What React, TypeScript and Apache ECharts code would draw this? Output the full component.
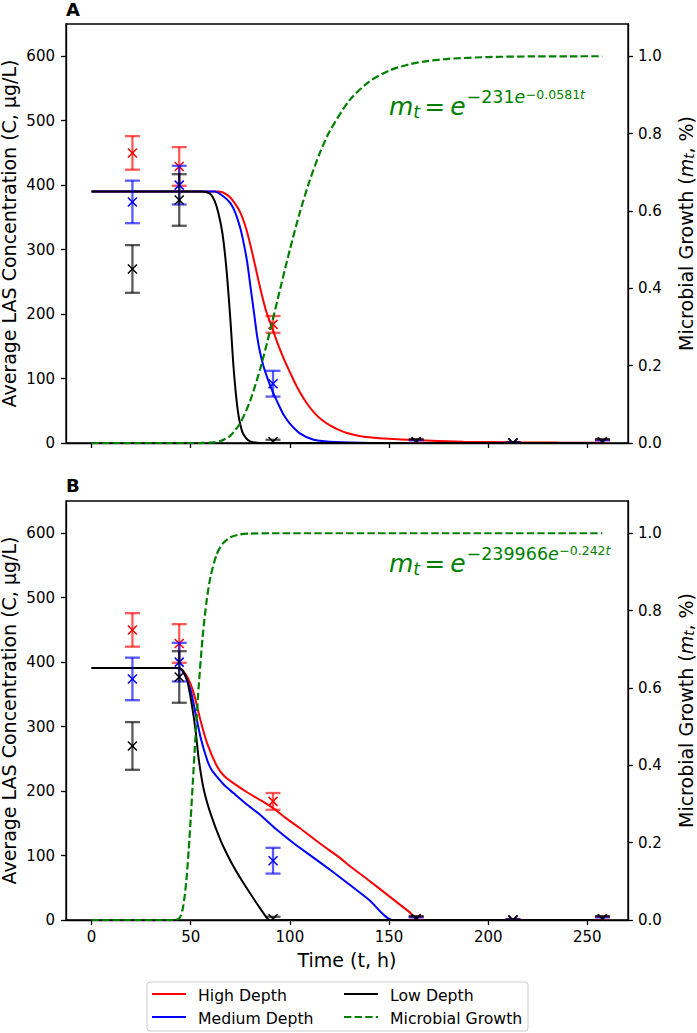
import React, { useEffect, useRef } from 'react';
import * as echarts from 'echarts';

const FONT = '"DejaVu Sans", sans-serif';
const RED = '#ff0000';
const BLUE = '#0000ff';
const BLACK = '#000000';
const GREEN = '#008000';

// Sampling times (h) and measured LAS concentrations (mean ± sd, µg/L)
const sampleTimes = [20.6, 44.2, 91.5, 163.7, 212.5, 257.6];
const highDepthMean = [450, 429, 184, 2, 0, 2];
const highDepthSd = [26, 30, 13, 3, 1, 3];
const mediumDepthMean = [374, 400, 92, 1, 0, 1];
const mediumDepthSd = [33, 30, 20, 3, 1, 3];
const lowDepthMean = [270, 377, 2, 2, 0, 2];
const lowDepthSd = [37, 40, 3, 4, 1, 4];

// Axis ticks
const timeTicks = [0, 50, 100, 150, 200, 250];
const concTicks = [0, 100, 200, 300, 400, 500, 600];
const growthTicks = [0, 0.2, 0.4, 0.6, 0.8, 1.0];

// Panel A model curves: [t (h), C (µg/L)]
const highFitA = [
  [0, 390], [64, 390], [68.4, 385], [72, 373], [75.1, 357], [78, 332], [80.1, 307], [82, 282],
  [84.3, 250], [86, 228], [87.7, 208], [89.8, 189], [91.8, 172], [94, 153], [96.9, 131], [100, 110],
  [103.6, 87], [108, 64], [112, 48], [116, 36], [120.4, 27], [125, 20], [128.8, 15.5], [135, 11],
  [140, 9], [150, 6.5], [162.4, 4.5], [187.6, 2], [212.8, 1], [235, 0.6], [257.6, 0.4],
];
const mediumFitA = [
  [0, 390], [62, 390], [66.7, 382], [70, 372], [72.5, 357], [75, 333], [76.7, 310], [78.5, 280],
  [80.1, 243], [82, 200], [83.5, 165], [85, 140], [86.8, 118], [89, 98], [91, 82], [93, 68],
  [95, 55], [97, 43], [100, 30], [105, 15], [112, 5], [120, 2], [135, 0.3], [150, 0], [257.6, 0],
];
const lowFitA = [
  [0, 390], [55, 390], [58, 389], [60, 386], [62, 376], [64, 356], [66, 325], [68, 270],
  [70, 191], [71.7, 113], [73.7, 51], [75.9, 18], [78, 7], [80, 2.5], [83.5, 0.5], [90, 0], [257.6, 0],
];
// Gompertz growth m_t = exp(-231 exp(-0.0581 t)), tabulated
const growthA = [
  [0, 0], [30, 0], [40, 0], [50, 0.000003], [55, 0.00008], [60, 0.00085], [65, 0.005], [70, 0.0191],
  [75, 0.0519], [80, 0.1094], [85, 0.1911], [90, 0.2898], [95, 0.3962], [100, 0.5002], [105, 0.5958],
  [110, 0.6788], [115, 0.7485], [120, 0.8052], [130, 0.8859], [140, 0.9345], [150, 0.9628],
  [160, 0.979], [170, 0.9882], [180, 0.9934], [200, 0.9979], [220, 0.9994], [240, 0.9998], [257.6, 1.0],
];

// Panel B model curves
const highFitB = [
  [0, 391], [44, 391], [48.2, 377.5], [51.5, 352], [54.9, 310], [58.3, 274], [63.3, 238], [67, 223],
  [71.7, 212], [78, 199], [85.1, 186], [91.8, 173], [98, 158], [105.3, 142], [115, 119], [125.4, 96],
  [130.5, 83], [140, 61], [150, 37], [160, 13], [165.5, 0], [257.6, 0],
];
const mediumFitB = [
  [0, 391], [44, 391], [46.5, 383], [49.9, 357], [52.4, 321], [54.9, 284], [58.3, 248], [60.5, 233],
  [63.3, 222], [67, 209], [71.7, 196.5], [78, 180], [85.1, 163], [93, 141], [101.9, 119], [110, 101],
  [120.4, 77.6], [130, 55], [140, 31], [152, 0], [257.6, 0],
];
const lowFitB = [
  [0, 391], [43, 391], [45.7, 388], [48.2, 372], [50.7, 331], [52.4, 295], [54.1, 248], [56.6, 202],
  [60, 165], [65, 124], [70, 92], [75, 65], [80, 41], [85, 18], [88.5, 3], [90, 0], [257.6, 0],
];
// Gompertz growth m_t = exp(-239966 exp(-0.242 t)), tabulated
const growthB = [
  [0, 0], [38, 0], [40, 0.0000003], [42, 0.0001], [44, 0.0034], [45, 0.0114], [46, 0.0299],
  [47, 0.0635], [48, 0.1149], [49, 0.1829], [50, 0.2634], [51, 0.351], [52, 0.4396], [53, 0.5245],
  [54, 0.6026], [56, 0.7318], [58, 0.825], [60, 0.8882], [63, 0.9442], [66, 0.9726], [70, 0.9895],
  [75, 0.9969], [80, 0.9991], [90, 0.9999], [257.6, 1.0],
];

const legendRows = [
  ['High Depth', RED, false], ['Medium Depth', BLUE, false],
  ['Low Depth', BLACK, false], ['Microbial Growth', GREEN, true],
] as const;

const GRID_LEFT = 66;
const GRID_WIDTH = 562;
const GRID_HEIGHT = 419;
const GRID_TOPS = [24, 501];
const DASH = [7.4, 3.2];

const lineAxis = { show: true, onZero: false, lineStyle: { color: '#000', width: 1.3 } };
const tickStyle = { color: '#000', width: 1.3 };
const labelText = { color: '#000', fontSize: 15, fontFamily: FONT };
const titleText = { color: '#000', fontSize: 19, fontFamily: FONT };

function xAxisFor(gi: number, withLabels: boolean) {
  return {
    type: 'value', gridIndex: gi, min: -12.9, max: 270.5, position: 'bottom',
    axisLine: lineAxis,
    axisTick: { show: true, length: 5, lineStyle: tickStyle, customValues: timeTicks },
    axisLabel: { show: withLabels, margin: 9, customValues: timeTicks, ...labelText },
    splitLine: { show: false },
    name: withLabels ? 'Time (t, h)' : '',
    nameLocation: 'middle', nameGap: 30, nameMoveOverlap: false, nameTextStyle: titleText,
  };
}

function concAxis(gi: number) {
  return {
    type: 'value', gridIndex: gi, min: 0, max: 650, position: 'left',
    axisLine: lineAxis,
    axisTick: { show: true, length: 5, lineStyle: tickStyle, customValues: concTicks },
    axisLabel: { margin: 11, customValues: concTicks, ...labelText },
    splitLine: { show: false },
    name: 'Average LAS Concentration (C, μg/L)',
    nameLocation: 'middle', nameGap: 48, nameMoveOverlap: false,
    nameTextStyle: { ...titleText, lineHeight: 19 },
  };
}

function growthAxis(gi: number) {
  return {
    type: 'value', gridIndex: gi, min: 0, max: 650 / 600, position: 'right',
    axisLine: lineAxis,
    axisTick: { show: true, length: 5, lineStyle: tickStyle, customValues: growthTicks },
    axisLabel: { margin: 10, customValues: growthTicks, formatter: (v: number) => v.toFixed(1), ...labelText },
    splitLine: { show: false },
    name: '{n|Microbial Growth (}{i|m}{s|t}{n|, %)}',
    nameLocation: 'middle', nameGap: 48, nameRotate: 90, nameMoveOverlap: false,
    nameTextStyle: {
      ...titleText,
      lineHeight: 19,
      rich: {
        n: { ...titleText, lineHeight: 19 },
        i: { ...titleText, fontStyle: 'italic', lineHeight: 19 },
        s: { color: '#000', fontFamily: FONT, fontSize: 13.5, fontStyle: 'italic', lineHeight: 13, padding: [6, 0, 0, 0] },
      },
    },
  };
}

function curve(name: string, data: number[][], color: string, xi: number, yi: number, dashed = false) {
  return {
    type: 'line', name, data, xAxisIndex: xi, yAxisIndex: yi,
    symbol: 'none', showSymbol: false, smooth: 0.25,
    lineStyle: { color, width: dashed ? 2.2 : 2, type: dashed ? DASH : 'solid' },
    itemStyle: { color }, silent: true, animation: false, z: dashed ? 5 : 3,
  };
}

function errorBars(name: string, means: number[], sds: number[], color: string, xi: number, yi: number) {
  return {
    type: 'custom', name, xAxisIndex: xi, yAxisIndex: yi, clip: true, silent: true, z: 4,
    data: sampleTimes.map((t, i) => [t, means[i], sds[i]]),
    encode: { x: 0, y: 1 },
    renderItem: (_params: any, api: any) => {
      const t = api.value(0);
      const m = api.value(1);
      const s = api.value(2);
      const c = api.coord([t, m]);
      const hi = api.coord([t, m + s]);
      const lo = api.coord([t, m - s]);
      const cap = 7.5;
      const mk = 4.5;
      const bar = { stroke: color, lineWidth: 2.3, opacity: 0.65 };
      const mark = { stroke: color, lineWidth: 1.5 };
      return {
        type: 'group',
        children: [
          { type: 'line', shape: { x1: hi[0], y1: hi[1], x2: lo[0], y2: lo[1] }, style: bar },
          { type: 'line', shape: { x1: hi[0] - cap, y1: hi[1], x2: hi[0] + cap, y2: hi[1] }, style: bar },
          { type: 'line', shape: { x1: lo[0] - cap, y1: lo[1], x2: lo[0] + cap, y2: lo[1] }, style: bar },
          { type: 'line', shape: { x1: c[0] - mk, y1: c[1] - mk, x2: c[0] + mk, y2: c[1] + mk }, style: mark },
          { type: 'line', shape: { x1: c[0] - mk, y1: c[1] + mk, x2: c[0] + mk, y2: c[1] - mk }, style: mark },
        ],
      };
    },
  };
}

type EqPart = { text: string; fs: number; italic?: boolean; dy?: number; gap?: number; gapAfter?: number };

// Lays out a mathtext-like formula as a row of text pieces sharing one baseline.
function formula(parts: EqPart[], x0: number, baseline: number) {
  const ctx = document.createElement('canvas').getContext('2d')!;
  let x = x0;
  const children: any[] = [];
  for (const p of parts) {
    x += p.gap || 0;
    const style = p.italic ? 'italic' : 'normal';
    ctx.font = `${style} ${p.fs}px "DejaVu Sans"`;
    const w = ctx.measureText(p.text).width;
    children.push({
      type: 'text', x, y: baseline + (p.dy || 0) - 0.346 * p.fs,
      style: {
        text: p.text, fill: GREEN, fontSize: p.fs, fontFamily: FONT, fontStyle: style,
        align: 'left', verticalAlign: 'middle', textAlign: 'left', textVerticalAlign: 'middle',
      },
    });
    x += w + (p.gapAfter || 0);
  }
  return { type: 'group', silent: true, children };
}

function gompertzLabel(a: string, k: string): EqPart[] {
  return [
    { text: 'm', fs: 25, italic: true },
    { text: 't', fs: 17.5, italic: true, dy: 3.5 },
    { text: '=', fs: 25, gap: 4, gapAfter: 5 },
    { text: 'e', fs: 25, italic: true },
    { text: '−' + a, fs: 17.5, dy: -11.5, gap: 1 },
    { text: 'e', fs: 17.5, italic: true, dy: -11.5 },
    { text: '−' + k, fs: 12.5, dy: -16.5, gap: 0.5 },
    { text: 't', fs: 12.5, italic: true, dy: -16.5 },
  ];
}

function legendGraphic() {
  const left = 147;
  const top = 982;
  const colX = [152, 344];
  const rowY = [994, 1017];
  const children: any[] = [
    {
      type: 'rect', shape: { x: left, y: top, width: 381, height: 49, r: 3 },
      style: { fill: 'rgba(255,255,255,0.8)', stroke: '#cccccc', lineWidth: 1 },
    },
  ];
  legendRows.forEach(([label, color, dashed], i) => {
    const cx = colX[Math.floor(i / 2)];
    const cy = rowY[i % 2];
    children.push({
      type: 'line', shape: { x1: cx, y1: cy, x2: cx + 34, y2: cy },
      style: { stroke: color, lineWidth: 2, lineDash: dashed ? DASH : null },
    });
    children.push({
      type: 'text', x: cx + 46, y: cy + 1,
      style: {
        text: label, fill: '#000', fontSize: 15.7, fontFamily: FONT,
        align: 'left', verticalAlign: 'middle', textAlign: 'left', textVerticalAlign: 'middle',
      },
    });
  });
  return { type: 'group', silent: true, children };
}

function panelLetter(letter: string, y: number) {
  return {
    type: 'text', x: GRID_LEFT, y, silent: true,
    style: {
      text: letter, fill: '#000', fontSize: 18, fontWeight: 'bold', fontFamily: FONT,
      align: 'left', verticalAlign: 'middle', textAlign: 'left', textVerticalAlign: 'middle',
    },
  };
}

function buildOption() {
  return {
    animation: false,
    backgroundColor: '#ffffff',
    grid: GRID_TOPS.map((top) => ({
      left: GRID_LEFT, top, width: GRID_WIDTH, height: GRID_HEIGHT,
      containLabel: false, outerBoundsMode: 'none',
      show: true, borderColor: '#000', borderWidth: 1.3, backgroundColor: 'transparent',
    })),
    xAxis: [xAxisFor(0, false), xAxisFor(1, true)],
    yAxis: [concAxis(0), growthAxis(0), concAxis(1), growthAxis(1)],
    series: [
      curve('High Depth', highFitA, RED, 0, 0),
      curve('Medium Depth', mediumFitA, BLUE, 0, 0),
      curve('Low Depth', lowFitA, BLACK, 0, 0),
      errorBars('High Depth data', highDepthMean, highDepthSd, RED, 0, 0),
      errorBars('Medium Depth data', mediumDepthMean, mediumDepthSd, BLUE, 0, 0),
      errorBars('Low Depth data', lowDepthMean, lowDepthSd, BLACK, 0, 0),
      curve('Microbial Growth', growthA, GREEN, 0, 1, true),

      curve('High Depth', highFitB, RED, 1, 2),
      curve('Medium Depth', mediumFitB, BLUE, 1, 2),
      curve('Low Depth', lowFitB, BLACK, 1, 2),
      errorBars('High Depth data', highDepthMean, highDepthSd, RED, 1, 2),
      errorBars('Medium Depth data', mediumDepthMean, mediumDepthSd, BLUE, 1, 2),
      errorBars('Low Depth data', lowDepthMean, lowDepthSd, BLACK, 1, 2),
      curve('Microbial Growth', growthB, GREEN, 1, 3, true),
    ],
    graphic: [
      panelLetter('A', 9.5),
      panelLetter('B', 485),
      formula(gompertzLabel('231', '0.0581'), 389, 115),
      formula(gompertzLabel('239966', '0.242'), 389, 571.7),
      legendGraphic(),
    ],
  };
}

export default function App() {
  const ref = useRef<HTMLDivElement>(null);
  useEffect(() => {
    document.body.style.margin = '0';
    const chart = echarts.init(ref.current!, null, { renderer: 'svg' });
    chart.setOption(buildOption() as any);
    return () => chart.dispose();
  }, []);
  return <div ref={ref} style={{ width: 697, height: 1033 }} />;
}
